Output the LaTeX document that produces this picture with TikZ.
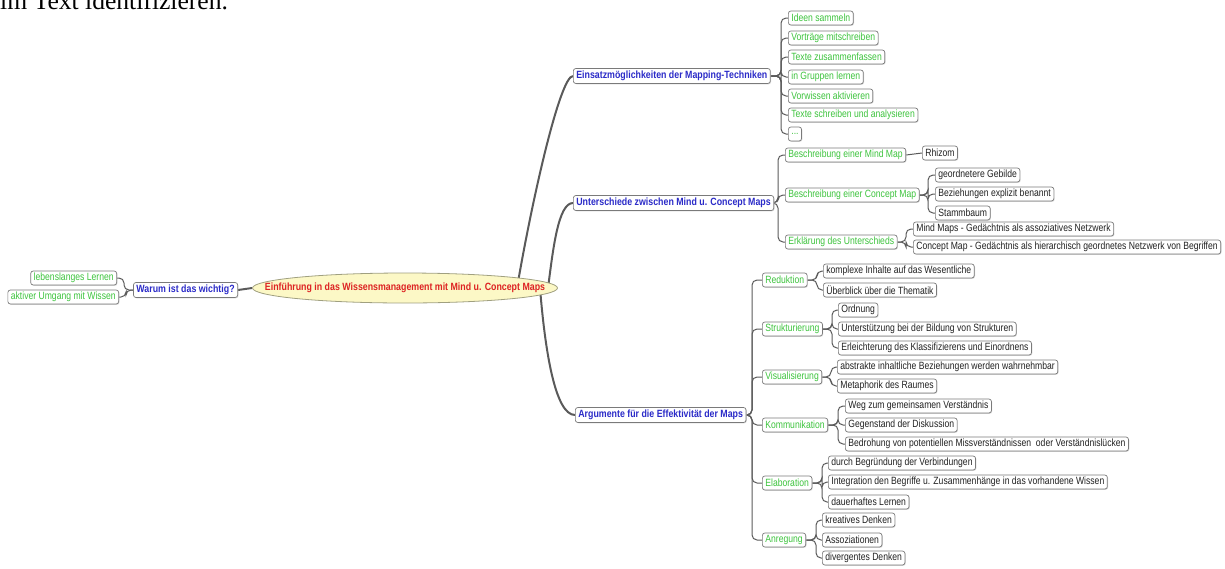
\documentclass[tikz,border=0pt]{standalone}
\usepackage{fontspec}
\setmainfont{Liberation Serif}
\newfontfamily\mapfont[FakeStretch=0.82]{Liberation Sans}
\newfontfamily\mapboldfont[FakeStretch=0.84]{Liberation Sans Bold}
\usetikzlibrary{shapes.geometric,backgrounds,shadows}

\definecolor{topicblue}{HTML}{2B2BC8}
\definecolor{hubred}{HTML}{DD2222}
\definecolor{subgreen}{HTML}{3EC43E}
\definecolor{leafink}{HTML}{222222}
\definecolor{boxline}{HTML}{7A7A7A}
\definecolor{linkgray}{HTML}{5A5A5A}
\definecolor{hubfill}{HTML}{FCF8C6}
\definecolor{hubline}{HTML}{A0A080}

\tikzset{
  x=1pt, y=-1pt,
  box/.style={draw=boxline, fill=white, rounded corners=2.5pt, line width=0.7pt,
    inner xsep=3pt, inner ysep=0pt, minimum height=14pt,
    font=\mapfont\fontsize{10.5}{11}\selectfont,
    drop shadow={shadow xshift=0.8pt, shadow yshift=-0.8pt, fill=black!25, opacity=0.6}},
  topic/.style={box, text=topicblue, minimum height=15pt,
    font=\mapboldfont\fontsize{10.5}{11}\selectfont},
  sub/.style={box, text=subgreen},
  leaf/.style={box, text=leafink},
  hub/.style={ellipse, draw=hubline, fill=hubfill, line width=0.8pt, inner sep=0pt,
    minimum width=305pt, minimum height=30pt},
  hubtext/.style={inner sep=0pt, text=hubred,
    font=\mapboldfont\fontsize{10.5}{11}\selectfont},
  br/.style={draw=linkgray, line width=1pt, rounded corners=5pt},
  trunk/.style={draw=linkgray, line width=2pt},
}

\begin{document}
\begin{tikzpicture}
\useasboundingbox (0,0) rectangle (1225,568);
\clip (0,0) rectangle (1225,568);

% running text above the map, cut by the page edge
\node[anchor=base west, inner sep=0pt, font=\fontsize{25.6}{26}\selectfont] (hdr) at (0,9) {im Text identifizieren.};

% centre
\node[hub] (c) at (405,288) {};
\node[hubtext] (ct) at (c.center) {Einführung in das Wissensmanagement mit Mind u. Concept Maps};

% left branch
\node[topic, anchor=east] (wa) at (238,290) {Warum ist das wichtig?};
\node[sub, anchor=east] (ll) at (117,278) {lebenslanges Lernen};
\node[sub, anchor=east] (au) at (119,297) {aktiver Umgang mit Wissen};

% main topics
\node[topic, anchor=west] (ei) at (573,76) {Einsatzmöglichkeiten der Mapping-Techniken};
\node[topic, anchor=west] (un) at (573,203) {Unterschiede zwischen Mind u. Concept Maps};
\node[topic, anchor=west] (ar) at (575,415) {Argumente für die Effektivität der Maps};

% uses of mapping techniques
\node[sub, anchor=west] (e1) at (788,18) {Ideen sammeln};
\node[sub, anchor=west] (e2) at (788,38) {Vorträge mitschreiben};
\node[sub, anchor=west] (e3) at (788,57) {Texte zusammenfassen};
\node[sub, anchor=west] (e4) at (788,77) {in Gruppen lernen};
\node[sub, anchor=west] (e5) at (788,96) {Vorwissen aktivieren};
\node[sub, anchor=west] (e6) at (788,115) {Texte schreiben und analysieren};
\node[sub, anchor=west] (e7) at (788,134) {...};

% mind map vs concept map
\node[sub, anchor=west] (u1) at (785,155) {Beschreibung einer Mind Map};
\node[sub, anchor=west] (u2) at (785,195) {Beschreibung einer Concept Map};
\node[sub, anchor=west] (u3) at (785,242) {Erklärung des Unterschieds};
\node[leaf, anchor=west] (u11) at (922,153) {Rhizom};
\node[leaf, anchor=west] (u21) at (935,175) {geordnetere Gebilde};
\node[leaf, anchor=west] (u22) at (935,194) {Beziehungen explizit benannt};
\node[leaf, anchor=west] (u23) at (935,213) {Stammbaum};
\node[leaf, anchor=west] (u31) at (913,229) {Mind Maps - Gedächtnis als assoziatives Netzwerk};
\node[leaf, anchor=west] (u32) at (913,247) {Concept Map - Gedächtnis als hierarchisch geordnetes Netzwerk von Begriffen};

% arguments
\node[sub, anchor=west] (a1) at (762,280) {Reduktion};
\node[sub, anchor=west] (a2) at (762,329) {Strukturierung};
\node[sub, anchor=west] (a3) at (762,377) {Visualisierung};
\node[sub, anchor=west] (a4) at (762,425) {Kommunikation};
\node[sub, anchor=west] (a5) at (762,483) {Elaboration};
\node[sub, anchor=west] (a6) at (762,540) {Anregung};

\node[leaf, anchor=west] (a11) at (823,271) {komplexe Inhalte auf das Wesentliche};
\node[leaf, anchor=west] (a12) at (823,290) {Überblick über die Thematik};
\node[leaf, anchor=west] (a21) at (838,310) {Ordnung};
\node[leaf, anchor=west] (a22) at (838,329) {Unterstützung bei der Bildung von Strukturen};
\node[leaf, anchor=west] (a23) at (838,348) {Erleichterung des Klassifizierens und Einordnens};
\node[leaf, anchor=west] (a31) at (837,367) {abstrakte inhaltliche Beziehungen werden wahrnehmbar};
\node[leaf, anchor=west] (a32) at (837,386) {Metaphorik des Raumes};
\node[leaf, anchor=west] (a41) at (845,406) {Weg zum gemeinsamen Verständnis};
\node[leaf, anchor=west] (a42) at (845,425) {Gegenstand der Diskussion};
\node[leaf, anchor=west] (a43) at (845,444) {Bedrohung von potentiellen Missverständnissen\ \ oder Verständnislücken};
\node[leaf, anchor=west] (a51) at (828,463) {durch Begründung der Verbindungen};
\node[leaf, anchor=west] (a52) at (828,482) {Integration den Begriffe u. Zusammenhänge in das vorhandene Wissen};
\node[leaf, anchor=west] (a53) at (828,502) {dauerhaftes Lernen};
\node[leaf, anchor=west] (a61) at (822,520) {kreatives Denken};
\node[leaf, anchor=west] (a62) at (822,540) {Assoziationen};
\node[leaf, anchor=west] (a63) at (822,558) {divergentes Denken};

\begin{pgfonlayer}{background}
  % trunks leaving the centre
  \draw[trunk] ([xshift=112pt]c.center) .. controls +(15,-88) and +(-13,0) .. (ei.west);
  \draw[trunk] ([xshift=143pt]c.center) .. controls +(5,-38) and +(-15,0) .. (un.west);
  \draw[trunk] ([xshift=135pt]c.center) .. controls +(5,62) and +(-20,0) .. (ar.west);
  \draw[trunk] (c.west) -- (wa.east);

  % brace to the left
  \foreach \k in {ll,au}
    \draw[br] (wa.west) -| ([xshift=7pt]\k.east) -- (\k.east);

  % braces to the right
  \foreach \k in {e1,e2,e3,e4,e5,e6,e7}
    \draw[br] (ei.east) -| ([xshift=-7pt]\k.west) -- (\k.west);
  \foreach \k in {u1,u2,u3}
    \draw[br] (un.east) -| ([xshift=-7pt]\k.west) -- (\k.west);
  \draw[br] (u1.east) -- (u11.west);
  \foreach \k in {u21,u22,u23}
    \draw[br] (u2.east) -| ([xshift=-7pt]\k.west) -- (\k.west);
  \foreach \k in {u31,u32}
    \draw[br] (u3.east) -| ([xshift=-7pt]\k.west) -- (\k.west);
  \foreach \k in {a1,a2,a3,a4,a5,a6}
    \draw[br] (ar.east) -| ([xshift=-10pt]\k.west) -- (\k.west);
  \foreach \k in {a11,a12}
    \draw[br] (a1.east) -| ([xshift=-6pt]\k.west) -- (\k.west);
  \foreach \k in {a21,a22,a23}
    \draw[br] (a2.east) -| ([xshift=-6pt]\k.west) -- (\k.west);
  \foreach \k in {a31,a32}
    \draw[br] (a3.east) -| ([xshift=-6pt]\k.west) -- (\k.west);
  \foreach \k in {a41,a42,a43}
    \draw[br] (a4.east) -| ([xshift=-7pt]\k.west) -- (\k.west);
  \foreach \k in {a51,a52,a53}
    \draw[br] (a5.east) -| ([xshift=-6pt]\k.west) -- (\k.west);
  \foreach \k in {a61,a62,a63}
    \draw[br] (a6.east) -| ([xshift=-6pt]\k.west) -- (\k.west);
\end{pgfonlayer}
\end{tikzpicture}
\end{document}
